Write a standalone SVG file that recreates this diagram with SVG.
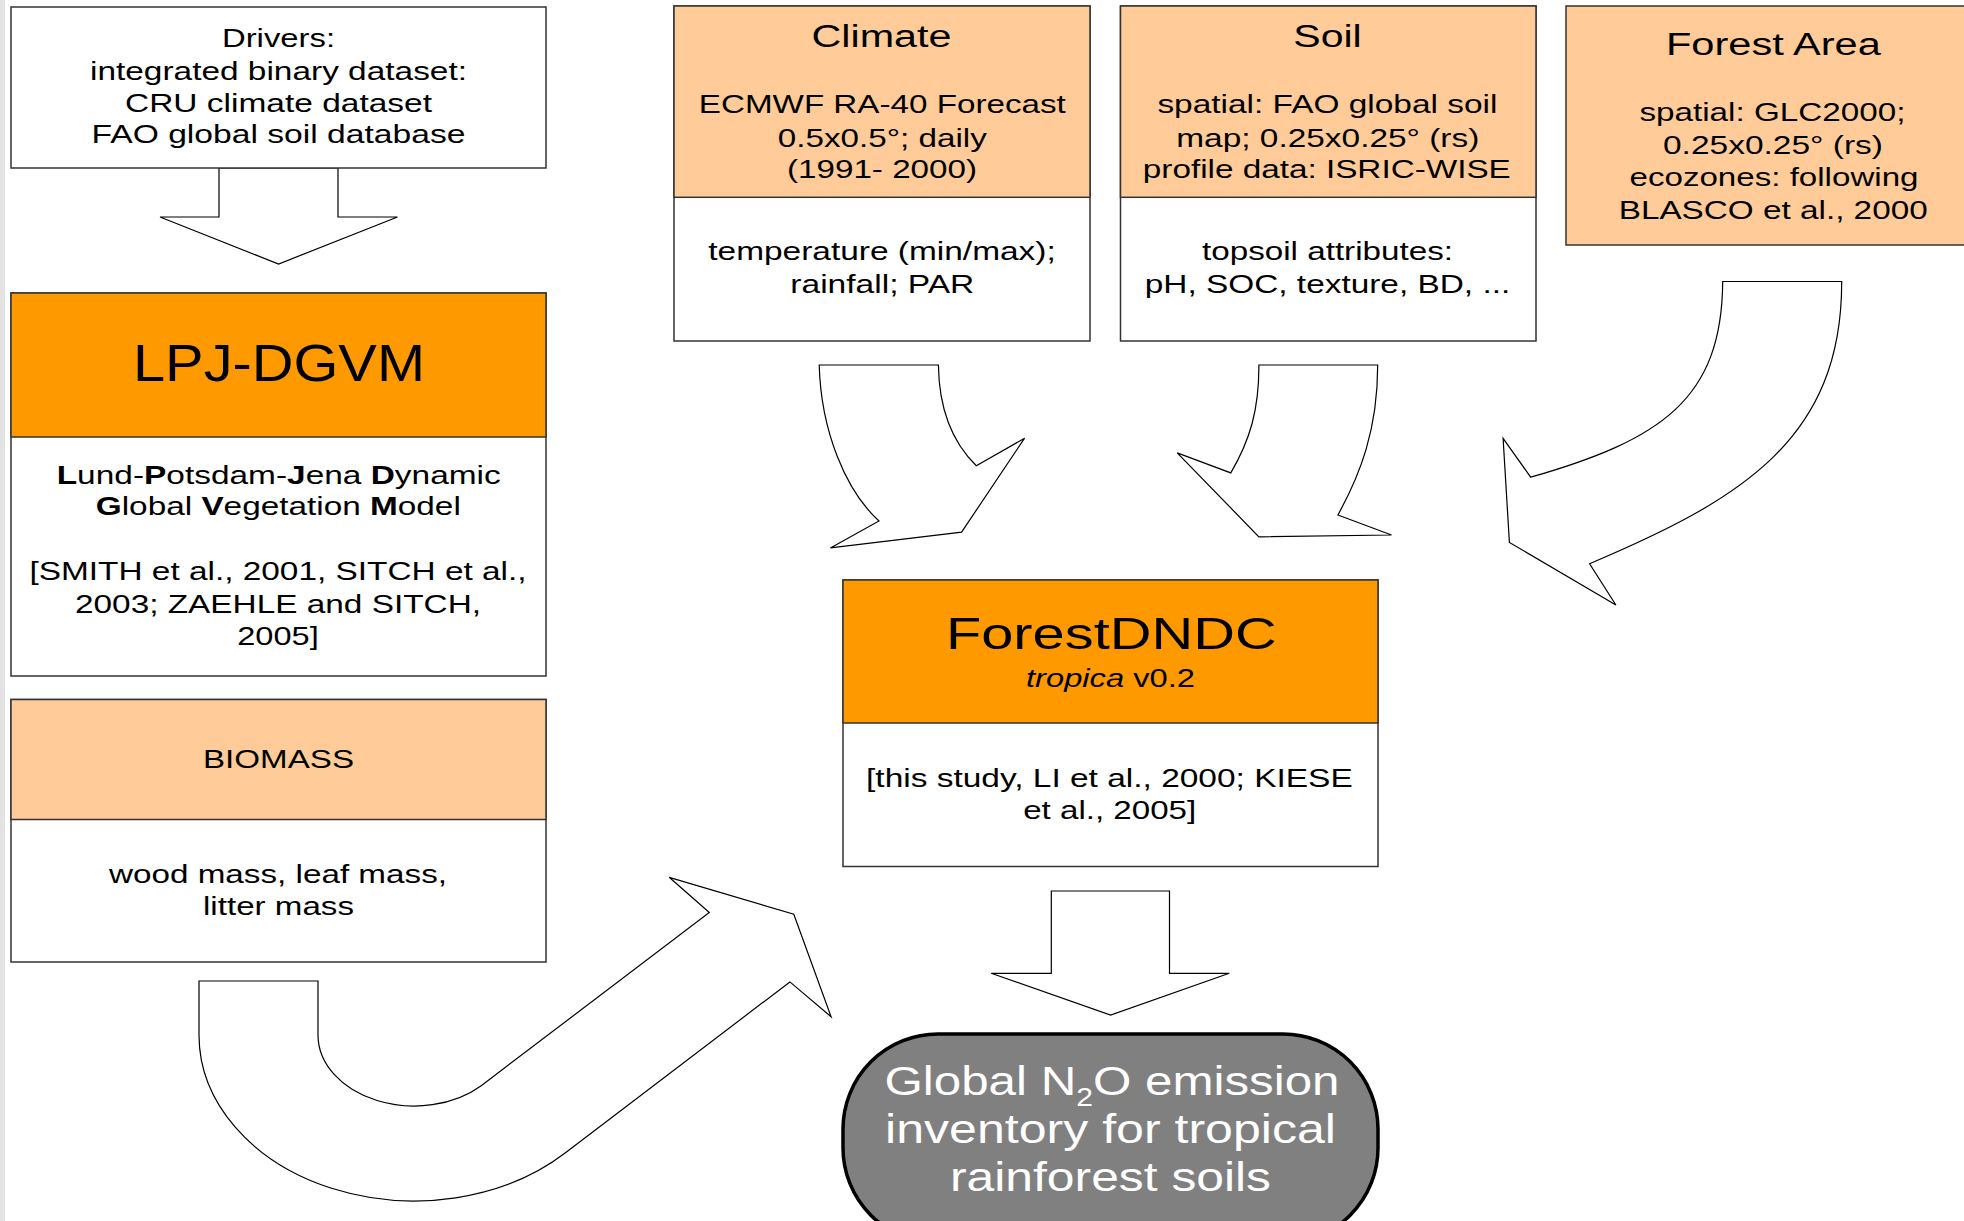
<svg xmlns="http://www.w3.org/2000/svg" width="1964" height="1221" viewBox="0 0 1964 1221">
  <style>
    .box { fill: #ffffff; stroke: #333333; stroke-width: 1.5; }
    .hdr-dark { fill: #ff9900; stroke: #333333; stroke-width: 1.5; }
    .hdr-light { fill: #ffcc99; stroke: #333333; stroke-width: 1.5; }
    .arrow { fill: #ffffff; stroke: #000000; stroke-width: 1.2; stroke-linejoin: miter; }
    text { font-family: "Liberation Sans", Arial, sans-serif; fill: #000000; text-anchor: middle; }
    .body { font-size: 25px; }
    .title { font-size: 31px; }
    .big { font-size: 51px; }
    .model { font-size: 44px; }
    .result { font-size: 41px; fill: #ffffff; }
    .b { font-weight: bold; }
    .i { font-style: italic; }
  </style>

  <!-- page margin strip -->
  <rect x="0" y="0" width="5" height="1221" fill="#e3e3e3"/>

  <!-- block arrows between the boxes -->
  <g id="connectors">
    <!-- drivers down to LPJ-DGVM -->
    <polygon class="arrow" points="219,168 219,217 160,217 278.6,264 397.5,217 338,217 338,168"/>
    <!-- ForestDNDC down to the inventory -->
    <polygon class="arrow" points="1051.3,891 1051.3,973.3 991.2,973.3 1110.6,1015 1229.3,973.3 1169.5,973.3 1169.5,891"/>
    <!-- biomass U-turn up to ForestDNDC -->
    <path class="arrow" d="M199,981 L318,981 L318,1035 A96,71 0 0 0 481.6,1085.4 L709.3,912.5 L669.2,877.3 L793.8,914.2 L831.1,1016.8 L789.9,981.9 L565.8,1152.5 A215,166 0 0 1 199,1035 Z"/>
    <!-- climate down to ForestDNDC -->
    <path class="arrow" d="M819.2,365 L938.4,365 C939,410 952,442 976.3,465.7 L1024.6,438.2 L961.6,532.1 L830.4,547.9 L879,521 C845,490 821,430 819.2,365 Z"/>
    <!-- soil down to ForestDNDC -->
    <path class="arrow" d="M1258.9,365 L1377.7,365 C1377.7,430 1360,475 1337.9,515 L1391.5,535 L1258.9,536.8 L1177.2,452.9 L1230.8,472.9 C1250,440 1259,410 1258.9,365 Z"/>
    <!-- forest area sweeping left to ForestDNDC -->
    <path class="arrow" d="M1722.7,281.5 L1841.7,281.5 C1842,440 1740,500 1589.6,563.7 L1615.9,605 L1509.4,542.4 L1503.1,438.4 L1530.7,477.2 C1660,440 1722,400 1722.7,281.5 Z"/>
  </g>

  <g id="drivers">
    <rect class="box" x="11" y="7" width="535" height="161"/>
    <text class="body" x="278.5" y="46.7" textLength="113" lengthAdjust="spacingAndGlyphs">Drivers:</text>
    <text class="body" x="278.5" y="79.8" textLength="377" lengthAdjust="spacingAndGlyphs">integrated binary dataset:</text>
    <text class="body" x="278.5" y="111.7" textLength="307" lengthAdjust="spacingAndGlyphs">CRU climate dataset</text>
    <text class="body" x="278.5" y="143.3" textLength="374" lengthAdjust="spacingAndGlyphs">FAO global soil database</text>
  </g>

  <g id="lpj-dgvm">
    <rect class="box" x="11" y="293" width="535" height="383"/>
    <rect class="hdr-dark" x="11" y="293" width="535" height="144"/>
    <text class="big" x="279" y="381" textLength="292" lengthAdjust="spacingAndGlyphs">LPJ-DGVM</text>
    <text class="body" x="278.7" y="483.5" textLength="444" lengthAdjust="spacingAndGlyphs"><tspan class="b">L</tspan>und-<tspan class="b">P</tspan>otsdam-<tspan class="b">J</tspan>ena <tspan class="b">D</tspan>ynamic</text>
    <text class="body" x="278.3" y="515" textLength="365" lengthAdjust="spacingAndGlyphs"><tspan class="b">G</tspan>lobal <tspan class="b">V</tspan>egetation <tspan class="b">M</tspan>odel</text>
    <text class="body" x="278" y="580" textLength="497" lengthAdjust="spacingAndGlyphs">[SMITH et al., 2001, SITCH et al.,</text>
    <text class="body" x="278" y="612.8" textLength="406" lengthAdjust="spacingAndGlyphs">2003; ZAEHLE and SITCH,</text>
    <text class="body" x="278" y="645" textLength="81.5" lengthAdjust="spacingAndGlyphs">2005]</text>
  </g>

  <g id="biomass">
    <rect class="box" x="11" y="699.5" width="535" height="262.5"/>
    <rect class="hdr-light" x="11" y="699.5" width="535" height="120"/>
    <text class="body" x="278.5" y="767.5" textLength="151" lengthAdjust="spacingAndGlyphs">BIOMASS</text>
    <text class="body" x="278" y="882.5" textLength="338" lengthAdjust="spacingAndGlyphs">wood mass, leaf mass,</text>
    <text class="body" x="278.5" y="914.5" textLength="151" lengthAdjust="spacingAndGlyphs">litter mass</text>
  </g>

  <g id="climate">
    <rect class="box" x="674" y="6" width="416" height="335"/>
    <rect class="hdr-light" x="674" y="6" width="416" height="191.3"/>
    <text class="title" x="881.5" y="46.7" textLength="140" lengthAdjust="spacingAndGlyphs">Climate</text>
    <text class="body" x="882.3" y="113" textLength="367" lengthAdjust="spacingAndGlyphs">ECMWF RA-40 Forecast</text>
    <text class="body" x="882.3" y="146.5" textLength="209" lengthAdjust="spacingAndGlyphs">0.5x0.5°; daily</text>
    <text class="body" x="882" y="178" textLength="190" lengthAdjust="spacingAndGlyphs">(1991- 2000)</text>
    <text class="body" x="882" y="260" textLength="347.5" lengthAdjust="spacingAndGlyphs">temperature (min/max);</text>
    <text class="body" x="882.3" y="293" textLength="184" lengthAdjust="spacingAndGlyphs">rainfall; PAR</text>
  </g>

  <g id="soil">
    <rect class="box" x="1120.5" y="6" width="415.5" height="335"/>
    <rect class="hdr-light" x="1120.5" y="6" width="415.5" height="191.3"/>
    <text class="title" x="1327.5" y="46.7" textLength="68.5" lengthAdjust="spacingAndGlyphs">Soil</text>
    <text class="body" x="1327.4" y="113" textLength="340" lengthAdjust="spacingAndGlyphs">spatial: FAO global soil</text>
    <text class="body" x="1327.8" y="146.5" textLength="303" lengthAdjust="spacingAndGlyphs">map; 0.25x0.25° (rs)</text>
    <text class="body" x="1326.8" y="178" textLength="368" lengthAdjust="spacingAndGlyphs">profile data: ISRIC-WISE</text>
    <text class="body" x="1327.5" y="260" textLength="251" lengthAdjust="spacingAndGlyphs">topsoil attributes:</text>
    <text class="body" x="1327.5" y="293" textLength="365.5" lengthAdjust="spacingAndGlyphs">pH, SOC, texture, BD, ...</text>
  </g>

  <g id="forest-area">
    <rect class="hdr-light" x="1566" y="6" width="414" height="239"/>
    <text class="title" x="1773.4" y="54.5" textLength="215" lengthAdjust="spacingAndGlyphs">Forest Area</text>
    <text class="body" x="1772.4" y="121" textLength="266" lengthAdjust="spacingAndGlyphs">spatial: GLC2000;</text>
    <text class="body" x="1773" y="153.5" textLength="220" lengthAdjust="spacingAndGlyphs">0.25x0.25° (rs)</text>
    <text class="body" x="1774" y="186" textLength="289" lengthAdjust="spacingAndGlyphs">ecozones: following</text>
    <text class="body" x="1773.2" y="218.5" textLength="309" lengthAdjust="spacingAndGlyphs">BLASCO et al., 2000</text>
  </g>

  <g id="forestdndc">
    <rect class="box" x="843" y="580" width="535" height="286.5"/>
    <rect class="hdr-dark" x="843" y="580" width="535" height="143"/>
    <text class="model" x="1111.3" y="648.5" textLength="330.7" lengthAdjust="spacingAndGlyphs">ForestDNDC</text>
    <text class="body" x="1110.5" y="686.5" textLength="169" lengthAdjust="spacingAndGlyphs"><tspan class="i">tropica</tspan> v0.2</text>
    <text class="body" x="1109.4" y="786.5" textLength="486.7" lengthAdjust="spacingAndGlyphs">[this study, LI et al., 2000; KIESE</text>
    <text class="body" x="1109.7" y="818.6" textLength="173" lengthAdjust="spacingAndGlyphs">et al., 2005]</text>
  </g>

  <g id="n2o-inventory">
    <rect x="843" y="1034" width="535" height="209" rx="95" ry="95" fill="#808080" stroke="#000000" stroke-width="3.5"/>
    <text class="result" x="1112" y="1095" textLength="455" lengthAdjust="spacingAndGlyphs">Global N<tspan font-size="25" dy="11">2</tspan><tspan dy="-11">O emission</tspan></text>
    <text class="result" x="1110.5" y="1143" textLength="451" lengthAdjust="spacingAndGlyphs">inventory for tropical</text>
    <text class="result" x="1110.5" y="1191" textLength="321" lengthAdjust="spacingAndGlyphs">rainforest soils</text>
  </g>
</svg>
